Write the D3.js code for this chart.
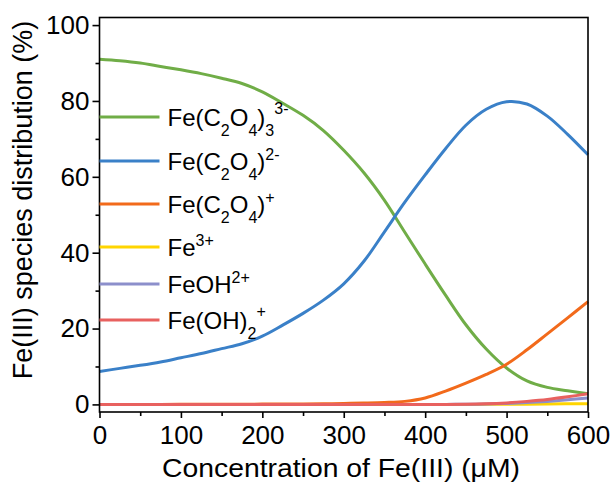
<!DOCTYPE html>
<html>
<head>
<meta charset="utf-8">
<script src="https://cdn.jsdelivr.net/npm/d3@7"></script>
<style>
  html, body { margin: 0; padding: 0; background: #fff; }
  svg { display: block; font-family: "Liberation Sans", Arial, sans-serif; }
</style>
</head>
<body>
<svg id="chart" width="613" height="484"></svg>
<script>
// Fe(III) concentration grid (µM)
const concentration = [0, 25, 50, 75, 100, 125, 150, 175, 200, 225, 250, 275, 300,
                       325, 350, 375, 400, 425, 450, 475, 500, 525, 550, 575, 600];

// Species distribution (%) at each concentration
const feOx3 = [91.0, 90.6, 90.0, 89.1, 88.2, 87.2, 86.0, 84.6, 82.4, 79.4, 76.2, 72.2, 67.0,
               61.0, 53.8, 45.4, 37.0, 28.8, 21.0, 14.6, 9.6, 6.2, 4.5, 3.6, 2.8];
const feOx2 = [8.7, 9.5, 10.3, 11.2, 12.3, 13.4, 14.7, 16.0, 18.0, 20.9, 24.0, 27.5, 31.8,
               37.8, 45.5, 53.3, 60.5, 67.4, 73.6, 77.8, 79.8, 79.2, 76.0, 71.2, 65.8];
const feOx1 = [0, 0, 0, 0, 0.02, 0.03, 0.04, 0.06, 0.08, 0.1, 0.13, 0.18, 0.25,
               0.35, 0.5, 0.8, 1.7, 3.5, 5.6, 7.9, 10.6, 14.4, 18.6, 22.8, 27.1];
const fe3 = [0, 0, 0, 0, 0, 0, 0, 0, 0, 0, 0, 0, 0,
             0, 0, 0, 0, 0, 0, 0.02, 0.04, 0.07, 0.1, 0.15, 0.2];
const feOH = [0, 0, 0, 0, 0, 0, 0, 0, 0, 0, 0, 0, 0,
              0, 0, 0, 0, 0.01, 0.03, 0.1, 0.25, 0.5, 0.8, 1.2, 1.7];
const feOH2 = [0, 0, 0, 0, 0, 0, 0, 0, 0, 0, 0, 0, 0,
               0, 0, 0, 0, 0.01, 0.04, 0.15, 0.4, 0.8, 1.3, 2.0, 2.8];

const xTicks = [0, 100, 200, 300, 400, 500, 600];
const yTicks = [0, 20, 40, 60, 80, 100];

// Legend labels: [text, kind] pieces, kind = "n" normal, "sub", "sup"
const seriesLabels = [
  [["Fe(C", "n"], ["2", "sub"], ["O", "n"], ["4", "sub"], [")", "n"], ["3", "sub"], ["3-", "sup2"]],
  [["Fe(C", "n"], ["2", "sub"], ["O", "n"], ["4", "sub"], [")", "n"], ["2-", "sup"]],
  [["Fe(C", "n"], ["2", "sub"], ["O", "n"], ["4", "sub"], [")", "n"], ["+", "sup"]],
  [["Fe", "n"], ["3+", "sup"]],
  [["FeOH", "n"], ["2+", "sup"]],
  [["Fe(OH)", "n"], ["2", "sub"], ["+", "sup2"]]
];
const seriesValues = [feOx3, feOx2, feOx1, fe3, feOH, feOH2];
const seriesColors = ["#70ad47", "#3a80c8", "#f26a1b", "#ffd500", "#8c8fcb", "#e8615f"];

const svg = d3.select("#chart");
const margin = { left: 99.5, right: 25, top: 17.5, bottom: 72 };
const W = 613, H = 484;

const x = d3.scaleLinear().domain([0, 600]).range([margin.left, W - margin.right]);
const y = d3.scaleLinear().domain([-2, 102]).range([H - margin.bottom, margin.top]);

// Series lines
const line = d3.line()
  .x((d, i) => x(concentration[i]))
  .y(d => y(d))
  .curve(d3.curveCatmullRom.alpha(0.5));

const plot = svg.append("g");
seriesValues.forEach((vals, k) => {
  plot.append("path")
    .datum(vals)
    .attr("fill", "none")
    .attr("stroke", seriesColors[k])
    .attr("stroke-width", 3)
    .attr("stroke-linejoin", "round")
    .attr("d", line);
});

// Frame
svg.append("rect")
  .attr("x", x(0)).attr("y", y(102))
  .attr("width", x(600) - x(0)).attr("height", y(-2) - y(102))
  .attr("fill", "none").attr("stroke", "#000").attr("stroke-width", 1.6);

// X axis
const xAxis = svg.append("g").attr("transform", `translate(0,${y(-2)})`);
xAxis.call(d3.axisBottom(x).tickValues(d3.range(50, 600, 100)).tickSize(4).tickFormat(""))
  .call(g => g.select(".domain").remove());
xAxis.append("g").call(d3.axisBottom(x).tickValues(xTicks).tickSize(6).tickPadding(8).tickFormat(d3.format("d")))
  .call(g => g.select(".domain").remove());
xAxis.selectAll("line").attr("stroke", "#000").attr("stroke-width", 1.6);
xAxis.selectAll("text").attr("font-size", 26).attr("fill", "#000")
  .attr("font-family", "Liberation Sans, Arial, sans-serif");

// Y axis
const yAxis = svg.append("g").attr("transform", `translate(${x(0)},0)`);
yAxis.call(d3.axisLeft(y).tickValues(d3.range(10, 101, 20)).tickSize(4).tickFormat(""))
  .call(g => g.select(".domain").remove());
yAxis.append("g").call(d3.axisLeft(y).tickValues(yTicks).tickSize(7).tickPadding(3).tickFormat(d3.format("d")))
  .call(g => g.select(".domain").remove());
yAxis.selectAll("line").attr("stroke", "#000").attr("stroke-width", 1.6);
yAxis.selectAll("text").attr("font-size", 26).attr("fill", "#000")
  .attr("font-family", "Liberation Sans, Arial, sans-serif");

// Axis titles
svg.append("text")
  .attr("x", 341).attr("y", 477)
  .attr("text-anchor", "middle")
  .attr("font-size", 26)
  .attr("textLength", 358).attr("lengthAdjust", "spacingAndGlyphs")
  .text("Concentration of Fe(III) (μM)");

svg.append("text")
  .attr("transform", "translate(32,200) rotate(-90)")
  .attr("text-anchor", "middle")
  .attr("font-size", 27)
  .text("Fe(III) species distribution (%)");

// Legend
const legendRows = [117, 161, 204, 247, 284, 320];
const legend = svg.append("g");
seriesLabels.forEach((parts, k) => {
  const ry = legendRows[k];
  legend.append("line")
    .attr("x1", x(0)).attr("x2", x(0) + 60)
    .attr("y1", ry).attr("y2", ry)
    .attr("stroke", seriesColors[k]).attr("stroke-width", 3);
  const t = legend.append("text")
    .attr("x", x(0) + 68).attr("y", ry + 8.5)
    .attr("font-size", 24).attr("fill", "#000");
  let offset = 0;
  parts.forEach(([s, kind]) => {
    let target = 0, size = 24;
    if (kind === "sub") { target = 10; size = 16; }
    if (kind === "sup") { target = -10; size = 16; }
    if (kind === "sup2") { target = -12; size = 16; }
    t.append("tspan")
      .attr("dy", target - offset)
      .attr("font-size", size)
      .text(s);
    offset = target;
  });
});
</script>
</body>
</html>
